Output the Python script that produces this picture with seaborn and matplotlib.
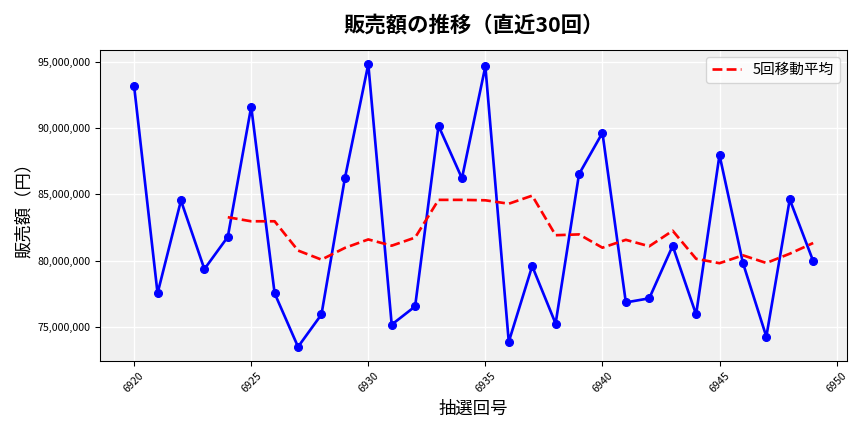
import matplotlib
matplotlib.use("Agg")
import matplotlib.pyplot as plt
import seaborn as sns
import pandas as pd
from matplotlib.ticker import FuncFormatter

draws = list(range(6920, 6950))
sales = [93.17, 77.52, 84.54, 79.35, 81.79, 91.64, 77.52, 73.47, 75.92, 86.22,
         94.85, 75.15, 76.53, 90.19, 86.22, 94.69, 73.85, 79.58, 75.23, 86.53,
         89.66, 76.83, 77.14, 81.11, 75.92, 87.98, 79.82, 74.24, 84.62, 79.96]
sales = [v * 1e6 for v in sales]

df = pd.DataFrame({"draw": draws, "sales": sales})
df["ma"] = df["sales"].rolling(5).mean()

plt.rcParams['font.family'] = ['Noto Sans CJK JP', 'DejaVu Sans']
fig, ax = plt.subplots(figsize=(9, 4.5), dpi=96)
ax.set_facecolor('#f0f0f0')
ax.grid(True, color='white', linewidth=1)
ax.set_axisbelow(True)

sns.lineplot(data=df, x="draw", y="sales", ax=ax, color='blue', marker='o',
             markersize=6, markeredgecolor='blue', linewidth=2)
sns.lineplot(data=df, x="draw", y="ma", ax=ax, color='red', linestyle='--',
             linewidth=2, label='5回移動平均')

ax.set_title('販売額の推移（直近30回）', fontsize=16, fontweight='bold', pad=14)
ax.set_xlabel('抽選回号', fontsize=13)
ax.set_ylabel('販売額（円）', fontsize=13)
ax.yaxis.set_major_formatter(FuncFormatter(lambda v, p: f'{v:,.0f}'))
ax.tick_params(axis='x', labelrotation=45, labelsize=8)
ax.tick_params(axis='y', labelsize=8)
ax.legend(loc='upper right', fontsize=11)
fig.tight_layout()
fig.savefig('out.png', dpi=96)
